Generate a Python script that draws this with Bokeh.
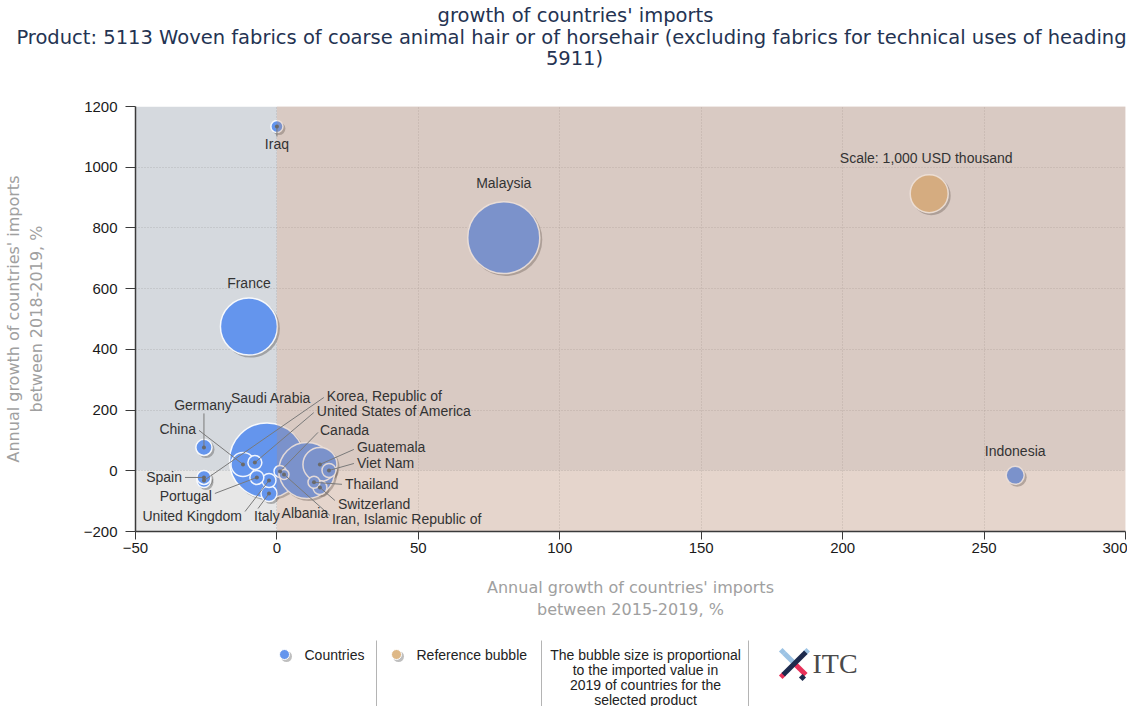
import numpy as np
from bokeh.plotting import figure
from bokeh.layouts import column
from bokeh.models import Range1d, FixedTicker
from bokeh.embed import file_html
from bokeh.resources import INLINE
from bokeh.core.properties import value

# ---------------- data ----------------
countries = ["Iraq", "Malaysia", "France", "Indonesia", "Saudi Arabia", "Germany", "China",
             "Spain", "Korea, Republic of", "United States of America", "Portugal",
             "United Kingdom", "Italy", "Canada", "Iran, Islamic Republic of", "Albania",
             "Guatemala", "Viet Nam", "Thailand", "Switzerland"]
growth_2015_2019 = [0.0, 80.2, -9.9, 261.0, -3.5, -25.8, -12.0, -25.8, -25.8, -7.8, -7.1,
                    -2.8, -2.8, 1.1, 2.5, 10.6, 15.2, 18.4, 13.1, 15.2]
growth_2018_2019 = [1134, 768, 475, -15, 34, 77, 21, -22, -32, 27, -22,
                    -32, -75, -2, -12, 1, 21, 1, -38, -55]
import_value_2019 = [100, 3590, 2250, 225, 3900, 180, 400, 135, 135, 135, 135,
                     135, 180, 100, 70, 2170, 800, 135, 100, 135]

ref_label = "Scale: 1,000 USD thousand"
ref_growth_2015_2019 = [230.6]
ref_growth_2018_2019 = [913]
ref_value = [1000]

x_ticks = [-50, 0, 50, 100, 150, 200, 250, 300]
y_ticks = [-200, 0, 200, 400, 600, 800, 1000, 1200]

title_lines = ["growth of countries' imports",
               "Product: 5113 Woven fabrics of coarse animal hair or of horsehair (excluding fabrics for technical uses of heading",
               "5911)"]
x_title = "Annual growth of countries' imports\nbetween 2015-2019, %"
y_title = "Annual growth of countries' imports\nbetween 2018-2019, %"
legend_items = ["Countries", "Reference bubble"]
legend_note = ["The bubble size is proportional", "to the imported value in",
               "2019 of countries for the", "selected product"]

# ---------------- layout (pixel offsets of labels from their bubble) ----------------
# name: (dx, dy, align, leader-line start offset or None)   screen px, y downwards
label_layout = {
    "Iraq": (0, 17, "center", (0, 10)),
    "Malaysia": (0, -55, "center", None),
    "France": (0, -44, "center", None),
    "Indonesia": (0, -24, "center", None),
    "Saudi Arabia": (4, -62, "center", None),
    "Germany": (-1, -42, "center", (0, -34)),
    "China": (-47, -35, "right", (-44, -34)),
    "Spain": (-22, 0, "right", (-19, 0)),
    "Korea, Republic of": (123, -85, "left", (120, -83)),
    "United States of America": (62, -52, "left", (59, -50)),
    "Portugal": (-45, 19, "right", (-42, 16)),
    "United Kingdom": (-27, 35, "right", (-24, 31)),
    "Italy": (-15, 22, "left", (-11, 15)),
    "Canada": (40, -41, "left", (38, -39)),
    "Iran, Islamic Republic of": (48, 45, "left", (46, 41)),
    "Albania": (-2, 43, "center", None),
    "Guatemala": (37, -17, "left", (34, -15)),
    "Viet Nam": (28, -7, "left", (25, -7)),
    "Thailand": (31, 2, "left", (28, 2)),
    "Switzerland": (18, 17, "left", (15, 13)),
}

FRAME_W, FRAME_H = 991, 425
XMIN, XMAX = x_ticks[0], x_ticks[-1]
YMIN, YMAX = y_ticks[0], y_ticks[-1]
PXX = FRAME_W / (XMAX - XMIN)
PXY = FRAME_H / (YMAX - YMIN)
REF_DIAM = 38.0

FONT = value("Liberation Sans")
BLUE = "#6495ed"
TAN = "#deb887"

xs = np.array(growth_2015_2019, dtype=float)
ys = np.array(growth_2018_2019, dtype=float)
sizes = REF_DIAM * np.sqrt(np.array(import_value_2019, dtype=float) / ref_value[0])
rx = np.array(ref_growth_2015_2019, dtype=float)
ry = np.array(ref_growth_2018_2019, dtype=float)
rsize = REF_DIAM * np.sqrt(np.array(ref_value, dtype=float) / ref_value[0])


def bare(fig):
    fig.axis.visible = False
    fig.grid.visible = False
    fig.outline_line_color = None
    fig.frame_align = False
    return fig


# ---------------- title figure ----------------
t = bare(figure(width=1127, height=90, x_range=Range1d(0, 1127), y_range=Range1d(90, 0),
                output_backend="svg", toolbar_location=None, min_border=0))
t.text(x=[575, 571, 574], y=[15, 37, 58], text=title_lines, text_align="center",
       text_baseline="middle", text_font=value("DejaVu Sans"), text_font_size="19.5px",
       text_color="#243352")

# ---------------- main figure ----------------
p = figure(width=1127, height=540, x_range=Range1d(XMIN, XMAX), y_range=Range1d(YMIN, YMAX),
           output_backend="svg", toolbar_location=None,
           min_border_left=134, min_border_right=2, min_border_top=16, min_border_bottom=99)
p.outline_line_color = None
p.background_fill_color = "white"
p.frame_align = False

# quadrant backgrounds
p.quad(left=[XMIN], right=[0], bottom=[0], top=[YMAX], fill_color="#d5d9de", line_color=None, level="image")
p.quad(left=[XMIN], right=[0], bottom=[YMIN], top=[0], fill_color="#e7e7e7", line_color=None, level="image")
p.quad(left=[0], right=[XMAX], bottom=[0], top=[YMAX], fill_color="#e3e0e2", line_color=None, level="image")
p.quad(left=[0], right=[XMAX], bottom=[YMIN], top=[0], fill_color="#f3efee", line_color=None, level="image")

# shadows
sdx, sdy = 2.0 / PXX, -2.0 / PXY
p.scatter(xs + sdx, ys + sdy, size=sizes + 1, fill_color="#606060", fill_alpha=0.45, line_color=None)
p.scatter(rx + sdx, ry + sdy, size=rsize + 1, fill_color="#606060", fill_alpha=0.45, line_color=None)
# bubbles (largest first)
order = np.argsort(-sizes)
p.scatter(xs[order], ys[order], size=sizes[order], fill_color=BLUE, line_color="white",
          line_width=1.5, line_alpha=0.9)
p.scatter(rx, ry, size=rsize, fill_color=TAN, line_color="white", line_width=1.5, line_alpha=0.9)

# tint overlay of the positive-growth half
p.quad(left=[0], right=[XMAX], bottom=[YMIN], top=[YMAX], fill_color="#be8d6b", fill_alpha=0.26,
       line_color=None, level="guide")

# labels and leader lines
lx0, ly0, lx1, ly1 = [], [], [], []
groups = {"left": ([], [], []), "right": ([], [], []), "center": ([], [], [])}
for i, name in enumerate(countries):
    dx, dy, al, ls = label_layout[name]
    gx, gy, gt = groups[al]
    gx.append(xs[i] + dx / PXX)
    gy.append(ys[i] - dy / PXY)
    gt.append(name)
    if ls is not None:
        lx0.append(xs[i] + ls[0] / PXX)
        ly0.append(ys[i] - ls[1] / PXY)
        lx1.append(xs[i])
        ly1.append(ys[i])
p.segment(lx0, ly0, lx1, ly1, line_color="#7a7a7a", line_width=1, level="annotation")
p.scatter(lx1, ly1, size=4, fill_color="#6a6a6a", line_color=None, level="annotation")
for al, (gx, gy, gt) in groups.items():
    p.text(gx, gy, text=gt, text_align=al, text_baseline="middle", text_font=FONT,
           text_font_size="14px", text_color="#333333", level="annotation")
p.text(rx - 3 / PXX, ry + 36 / PXY, text=[ref_label], text_align="center", text_baseline="middle",
       text_font=FONT, text_font_size="14px", text_color="#333333", level="annotation")

# grid
p.grid.grid_line_color = "#9a9a9a"
p.grid.grid_line_alpha = 0.5
p.grid.grid_line_dash = "1 2"
p.xaxis.ticker = FixedTicker(ticks=x_ticks, minor_ticks=[])
p.yaxis.ticker = FixedTicker(ticks=y_ticks, minor_ticks=[])

for ax in (p.xaxis[0], p.yaxis[0]):
    ax.axis_line_color = "#3a3a3a"
    ax.axis_line_width = 1.5
    ax.major_tick_line_color = "#3a3a3a"
    ax.major_tick_in = 0
    ax.minor_tick_line_color = None
    ax.major_label_text_font = "Liberation Sans"
    ax.major_label_text_font_size = "15px"
    ax.major_label_text_color = "#1a1a1a"
    ax.axis_label_text_font = "DejaVu Sans"
    ax.axis_label_text_font_size = "16px"
    ax.axis_label_text_font_style = "normal"
    ax.axis_label_text_color = "#a0a0a0"
p.xaxis.major_tick_out = 8
p.xaxis.major_label_standoff = 3
p.xaxis.axis_label = x_title
p.xaxis.axis_label_standoff = 22
p.yaxis.major_tick_out = 10
p.yaxis.major_label_standoff = 8
p.yaxis.axis_label = y_title
p.yaxis.axis_label_standoff = 35

# ---------------- legend figure ----------------
lg = bare(figure(width=1127, height=76, x_range=Range1d(0, 1127), y_range=Range1d(706, 630),
                 output_backend="svg", toolbar_location=None, min_border=0))
LY = 654
lg.scatter([286, 398], [LY + 2, LY + 2], size=11, fill_color="#707070", fill_alpha=0.45, line_color=None)
lg.scatter([284, 396], [LY, LY], size=10, fill_color=[BLUE, TAN], line_color="white", line_width=1)
lg.text([304, 416], [LY, LY], text=legend_items, text_align="left", text_baseline="middle",
        text_font=FONT, text_font_size="14px", text_color="#222222")
lg.text([645] * 4, [LY + 15 * k for k in range(4)], text=legend_note, text_align="center",
        text_baseline="middle", text_font=FONT, text_font_size="14px", text_color="#222222")
lg.segment([376, 541, 748], [640, 640, 640], [376, 541, 748], [706, 706, 706],
           line_color="#b4b4b4", line_width=1)
# ITC logo
cx, cy = 794, 663
lg.rect([cx - 5], [cy - 5], width=15, height=5, angle=-np.pi / 4, fill_color="#9cc3e4", line_color=None)
lg.rect([cx - 12, cx + 12], [cy - 12, cy - 12], width=5, height=5, angle=np.pi / 4,
        fill_color="#9cc3e4", line_color=None)
lg.rect([cx + 6], [cy + 6], width=15, height=5, angle=-np.pi / 4, fill_color="#e8315a", line_color=None)
lg.rect([cx - 12], [cy + 12], width=5, height=5, angle=np.pi / 4, fill_color="#e8315a", line_color=None)
lg.rect([cx], [cy], width=32, height=5, angle=np.pi / 4, fill_color="#1d2a4d", line_color=None)
lg.rect([cx + 8], [cy + 14], width=5, height=5, angle=np.pi / 4, fill_color="#1d2a4d", line_color=None)
lg.text([812], [cy], text=["ITC"], text_align="left", text_baseline="middle",
        text_font=value("Liberation Serif"), text_font_size="28px", text_color="#4a4a4a")

layout = column(t, p, lg, spacing=0)
open("out.html", "w").write(file_html(layout, INLINE))
